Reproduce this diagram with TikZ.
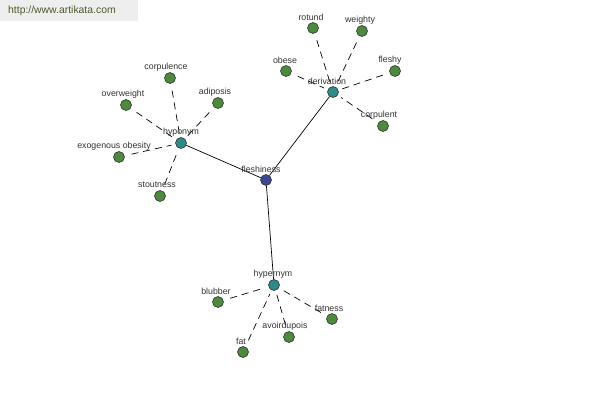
\documentclass[tikz,border=0pt]{standalone}
\usepackage{fontspec}
\setmainfont{Liberation Sans}
\begin{document}
\begin{tikzpicture}[x=1pt,y=-1pt,
  dot/.style={circle,draw=black!80,line width=0.6pt,minimum size=11pt,inner sep=0pt},
  leaf/.style={dot,fill=leafgreen},
  hub/.style={dot,fill=hubteal},
  root/.style={dot,fill=rootblue},
  lbl/.style={font=\fontsize{8.8}{9}\selectfont,text=black!80,inner sep=0pt},
  dashline/.style={draw=black,line width=0.7pt,dash pattern=on 7pt off 5pt,shorten <=7pt,shorten >=4pt},
  solidline/.style={draw=black,line width=0.7pt}]
\definecolor{leafgreen}{HTML}{4C8A3C}
\definecolor{hubteal}{HTML}{2F8A8A}
\definecolor{rootblue}{HTML}{3A4896}
\definecolor{wmgray}{HTML}{EEEEEE}
\definecolor{wmtext}{HTML}{4A5A2C}
\useasboundingbox (0,0) rectangle (600,400);
\fill[white] (0,0) rectangle (600,400);
\fill[wmgray] (0,0) rectangle (138,21);
\node[anchor=west,font=\fontsize{10.4}{11}\selectfont,text=wmtext,inner sep=0pt] (wm) at (8,11) {http://www.artikata.com};
% hubs
\node[root] (fleshiness) at (266,180) {};
\node[hub] (hyponym) at (181,143) {};
\node[hub] (derivation) at (333,92) {};
\node[hub] (hypernym) at (274,285) {};
% leaves
\node[leaf] (corpulence) at (170,78) {};
\node[leaf] (adiposis) at (218,103) {};
\node[leaf] (overweight) at (126,105) {};
\node[leaf] (exogenous) at (119,157) {};
\node[leaf] (stoutness) at (160,196) {};
\node[leaf] (rotund) at (313,28) {};
\node[leaf] (weighty) at (362,31) {};
\node[leaf] (obese) at (286,71) {};
\node[leaf] (fleshy) at (395,71) {};
\node[leaf] (corpulent) at (383,126) {};
\node[leaf] (blubber) at (218,302) {};
\node[leaf] (fatness) at (332,319) {};
\node[leaf] (avoirdupois) at (289,337) {};
\node[leaf] (fat) at (243,352) {};
% edges
\draw[solidline] (fleshiness) -- (hyponym);
\draw[solidline] (fleshiness) -- (derivation);
\draw[solidline] (fleshiness) -- (hypernym);
\foreach \l in {corpulence,adiposis,overweight,exogenous,stoutness}
  \draw[dashline] (\l) -- (hyponym);
\foreach \l in {rotund,weighty,obese,fleshy,corpulent}
  \draw[dashline] (\l) -- (derivation);
\foreach \l in {blubber,fatness,avoirdupois,fat}
  \draw[dashline] (\l) -- (hypernym);
% labels
\node[lbl] (tfleshiness) at (261,169) {fleshiness};
\node[lbl] (thyponym) at (181,132) {hyponym};
\node[lbl] (tderivation) at (327,81) {derivation};
\node[lbl] (thypernym) at (273,274) {hypernym};
\node[lbl] (tcorpulence) at (166,67) {corpulence};
\node[lbl] (tadiposis) at (215,92) {adiposis};
\node[lbl] (toverweight) at (123,94) {overweight};
\node[lbl] (texogenous) at (114,146) {exogenous obesity};
\node[lbl] (tstoutness) at (157,185) {stoutness};
\node[lbl] (trotund) at (311,17) {rotund};
\node[lbl] (tweighty) at (360,20) {weighty};
\node[lbl] (tobese) at (285,60) {obese};
\node[lbl] (tfleshy) at (390,60) {fleshy};
\node[lbl] (tcorpulent) at (379,115) {corpulent};
\node[lbl] (tblubber) at (216,291) {blubber};
\node[lbl] (tfatness) at (329,308) {fatness};
\node[lbl] (tavoirdupois) at (285,326) {avoirdupois};
\node[lbl] (tfat) at (241,341) {fat};
\end{tikzpicture}
\end{document}
